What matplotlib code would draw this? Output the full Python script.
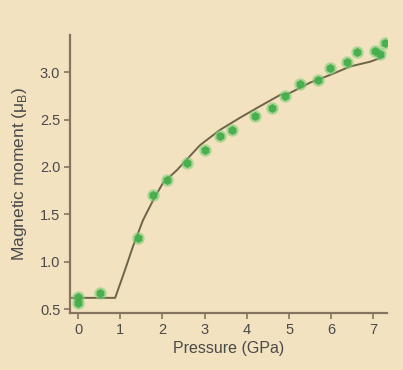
import matplotlib.pyplot as plt

# measured points (pressure in GPa, moment in muB)
pressure = [0.0, 0.0, 0.52, 1.42, 1.78, 2.11, 2.58, 3.01, 3.36, 3.65, 4.19, 4.60,
            4.91, 5.26, 5.69, 5.97, 6.37, 6.61, 7.04, 7.16, 7.27]
moment = [0.57, 0.63, 0.67, 1.25, 1.70, 1.86, 2.04, 2.18, 2.33, 2.39, 2.54, 2.62,
          2.75, 2.87, 2.92, 3.04, 3.11, 3.21, 3.22, 3.19, 3.31]

# fitted curve
fit_p = [-0.14, 0.88, 1.11, 1.30, 1.54, 1.78, 2.01, 2.35, 2.89, 3.36, 3.84, 4.31,
         4.79, 5.02, 5.50, 5.97, 6.45, 6.92, 7.23]
fit_m = [0.62, 0.62, 0.91, 1.16, 1.44, 1.65, 1.83, 1.97, 2.23, 2.39, 2.52, 2.64,
         2.76, 2.78, 2.89, 2.97, 3.06, 3.11, 3.16]

xticks = [0, 1, 2, 3, 4, 5, 6, 7]
yticks = [0.5, 1.0, 1.5, 2.0, 2.5, 3.0]

bg = '#f2e2c0'
spine = '#857560'
txt = '#4a4a4a'

plt.rcParams['font.family'] = ['Liberation Sans', 'DejaVu Sans']

fig = plt.figure(figsize=(4.03, 3.70), dpi=100, facecolor=bg)
ax = fig.add_axes([0.1737, 0.154, 0.7866, 0.751], facecolor=bg)

ax.plot(fit_p, fit_m, color='#6e6447', lw=1.4, zorder=2)
# soft halo + core to mimic the blurred dots
ax.plot(pressure, moment, 'o', color='#7fcf78', ms=9, mew=0, alpha=0.6, zorder=3)
ax.plot(pressure, moment, 'h', color='#45ad4a', ms=6.5, mew=0, alpha=0.95, zorder=4)

ax.set_xlim(-0.19, 7.32)
ax.set_ylim(0.46, 3.39)
ax.set_xticks(xticks)
ax.set_xticklabels([str(t) for t in xticks])
ax.set_yticks(yticks)
ax.set_yticklabels([f'{t:.1f}' for t in yticks])

for s in ['top', 'right']:
    ax.spines[s].set_visible(False)
for s in ['left', 'bottom']:
    ax.spines[s].set_color(spine)
    ax.spines[s].set_linewidth(1.6)

ax.tick_params(direction='out', length=4, width=1.2, color=spine,
               labelcolor=txt, labelsize=10.5, pad=3)

ax.set_xlabel('Pressure (GPa)', fontsize=11.5, color=txt, labelpad=3)
ax.set_ylabel('Magnetic moment (μ$_\\mathregular{B}$)', fontsize=12.5, color=txt,
              labelpad=8)

fig.savefig('out.png', dpi=100, facecolor=bg)
